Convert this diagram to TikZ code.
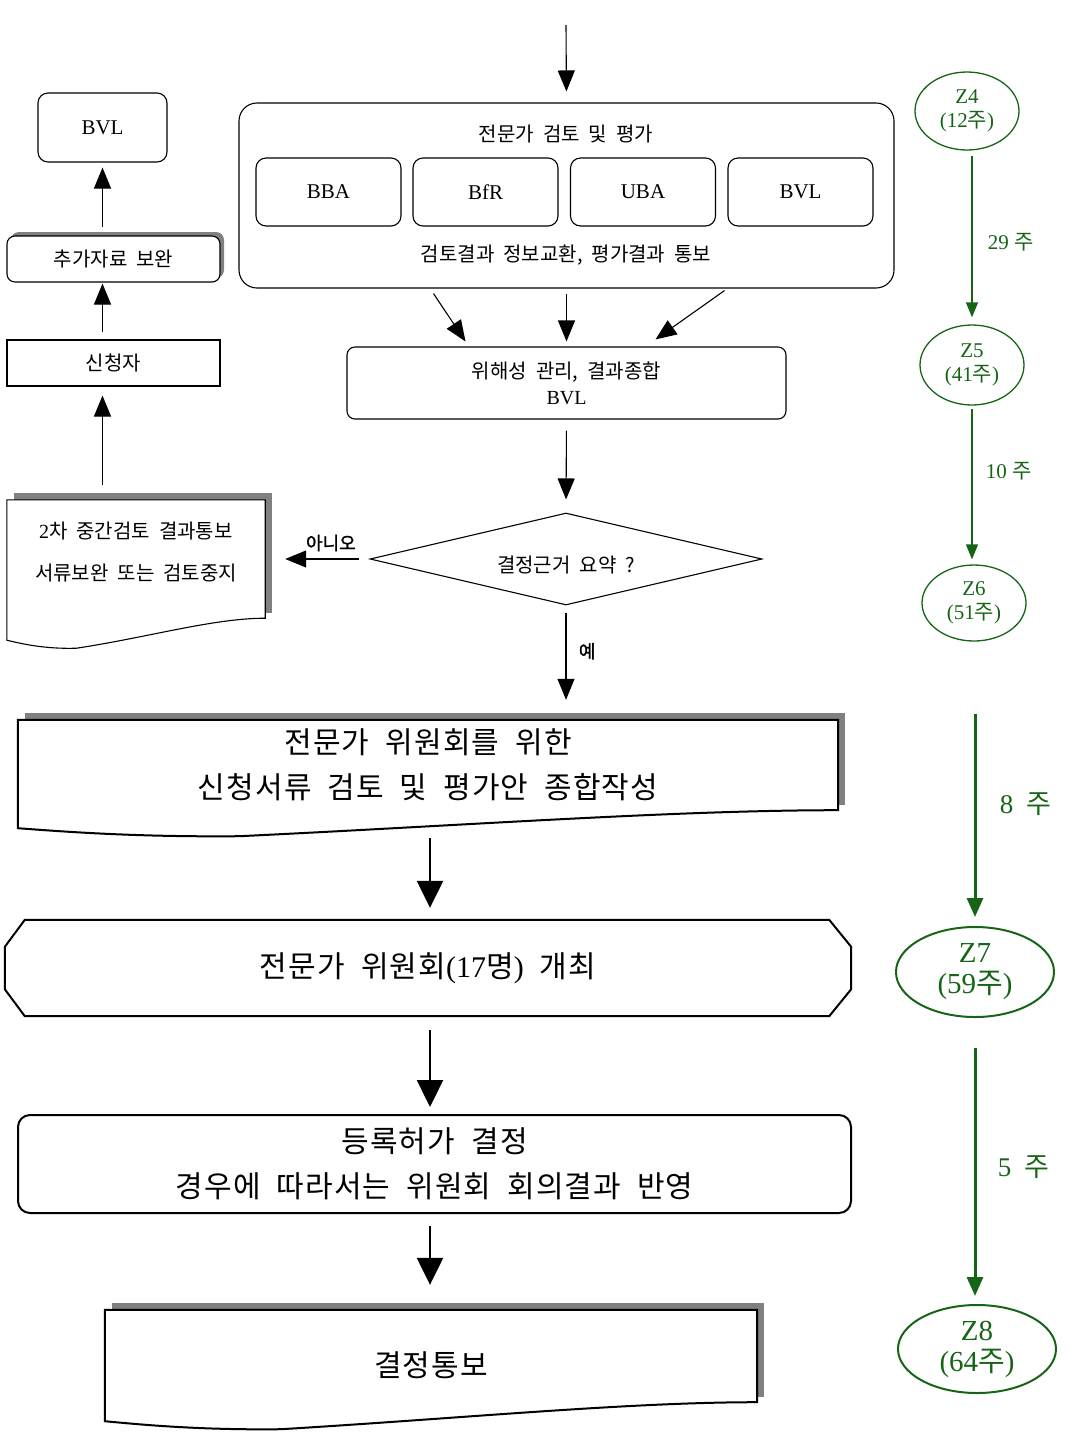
\documentclass[tikz,border=0pt]{standalone}
\usepackage{fontspec}
\setmainfont{Liberation Serif}
\newfontfamily\kr{Noto Sans CJK KR}[WordSpace=2]
\newfontfamily\krwide{Noto Sans CJK KR}[WordSpace=2, LetterSpace=4]
\newfontfamily\krbold{Noto Sans CJK KR}[FakeBold=1.5]
\usetikzlibrary{shapes.geometric, arrows.meta, calc, shadows, backgrounds}
\definecolor{zgreen}{RGB}{22,100,22}
\definecolor{shadowgray}{RGB}{128,128,128}
% document shape with wavy lower edge: node, rise of the right corner, line width
\newcommand{\docframe}[3]{
  \begin{scope}[on background layer]
    \fill[shadowgray] ($(#1.north west)+(7,-7)$) rectangle ($(#1.south east)+(7,-5)$);
    \filldraw[fill=white, line width=#3] (#1.north west) -- (#1.north east) -- (#1.south east)
      .. controls ($(#1.south west)!0.8!(#1.south east)$) and ($(#1.south west)!0.55!(#1.south east)+(0,#2-3)$) .. ($(#1.south west)!0.27!(#1.south east)+(0,#2+8)$)
      .. controls ($(#1.south west)!0.14!(#1.south east)+(0,#2+9)$) and ($(#1.south west)!0.05!(#1.south east)+(0,#2+3)$) .. ($(#1.south west)+(0,#2)$) -- cycle;
  \end{scope}
}

\begin{document}
\begin{tikzpicture}[x=1pt, y=-1pt,
    txt/.style={font=\kr\fontsize{20}{26}\selectfont},
    bigtxt/.style={font=\krwide\fontsize{30}{45}\selectfont},
    latin/.style={font=\rmfamily\fontsize{21}{24}\selectfont},
    frame/.style={draw, line width=1.1pt, inner sep=0pt, align=center},
    bigframe/.style={draw, line width=2pt, inner sep=0pt, align=center},
    arr/.style={-{Triangle[width=17pt,length=21pt]}, line width=1.1pt},
    bigarr/.style={-{Triangle[width=26pt,length=27pt]}, line width=2.4pt},
    lbl/.style={font=\krbold\fontsize{18}{20}\selectfont},
    zone/.style={ellipse, draw=zgreen, text=zgreen, line width=1.3pt, inner sep=0pt, align=center, font=\rmfamily\fontsize{21}{24}\selectfont},
    bigzone/.style={zone, line width=2pt, font=\rmfamily\fontsize{29}{31}\selectfont},
    garr/.style={zgreen, -{Triangle[width=12pt,length=15pt]}, line width=1.3pt},
    gbigarr/.style={zgreen, -{Triangle[width=16pt,length=19pt]}, line width=3pt},
    weeks/.style={text=zgreen, font=\rmfamily\fontsize{21}{24}\selectfont},
    bigweeks/.style={text=zgreen, font=\rmfamily\fontsize{27}{30}\selectfont}]
  \useasboundingbox (0,0) rectangle (1070,1444);

  % expert review block
  \coordinate (entry) at (566,25);
  \node[frame, rounded corners=18pt, minimum width=655pt, minimum height=185pt] (review) at (566.5,195.5) {};
  \node[txt] (revtitle) at (566,134) {전문가 검토 및 평가};
  \node[frame, rounded corners=10pt, latin, minimum width=145pt, minimum height=68pt] (bba) at (328.5,192) {BBA};
  \node[frame, rounded corners=10pt, latin, minimum width=145pt, minimum height=68pt] (bfr) at (485.5,192) {BfR};
  \node[frame, rounded corners=10pt, latin, minimum width=145pt, minimum height=68pt] (uba) at (643,192) {UBA};
  \node[frame, rounded corners=10pt, latin, minimum width=145pt, minimum height=68pt] (bvlsub) at (800.5,192) {BVL};
  \node[txt] (revnote) at (566,255) {검토결과 정보교환, 평가결과 통보};

  % risk management
  \node[frame, rounded corners=8pt, txt, minimum width=439pt, minimum height=72pt] (risk) at (566.5,383) {위해성 관리, 결과종합\\{\rmfamily BVL}};
  \node[draw, diamond, aspect=4.26, line width=1.1pt, inner sep=0pt, minimum width=392pt, minimum height=92pt, txt] (decision) at (566,559) {\raisebox{-13pt}[0pt][0pt]{결정근거 요약 ?}};

  % left column
  \node[draw=none, txt, align=center, minimum width=258pt, minimum height=118pt, inner sep=0pt] (notice2) at (136,559) {{\rmfamily 2}차 중간검토 결과통보\\[16pt]서류보완 또는 검토중지\\[-10pt]};
  \docframe{notice2}{22}{1.1pt}
  \node[frame, txt, minimum width=213pt, minimum height=46pt] (applicant) at (113.5,363) {신청자};
  \node[frame, rounded corners=8pt, txt, fill=white, minimum width=213pt, minimum height=46pt,
        drop shadow={shadow xshift=4pt, shadow yshift=4pt, fill=shadowgray, opacity=1}] (supplement) at (113.5,259) {추가자료 보완};
  \node[frame, rounded corners=10pt, latin, minimum width=129pt, minimum height=69pt] (bvlleft) at (102.5,127.5) {BVL};

  % lower part
  \node[draw=none, bigtxt, align=center, minimum width=820pt, minimum height=90pt, inner sep=0pt] (prepdoc) at (428,765) {전문가 위원회를 위한\\신청서류 검토 및 평가안 종합작성};
  \docframe{prepdoc}{18}{2pt}
  \node[draw=none, bigtxt, minimum width=846pt, minimum height=96pt, inner sep=0pt] (meeting) at (428,968) {전문가 위원회{\rmfamily (17}명{\rmfamily )} 개최};
  \draw[line width=2pt] ($(meeting.north west)+(20,0)$) -- ($(meeting.north east)+(-22,0)$) -- ($(meeting.north east)+(0,27)$)
    -- ($(meeting.south east)+(0,-27)$) -- ($(meeting.south east)+(-22,0)$) -- ($(meeting.south west)+(20,0)$)
    -- ($(meeting.south west)+(0,-27)$) -- ($(meeting.north west)+(0,27)$) -- cycle;
  \node[bigframe, rounded corners=12pt, bigtxt, minimum width=833pt, minimum height=98pt] (decide) at (434.5,1164) {등록허가 결정\\경우에 따라서는 위원회 회의결과 반영};
  \node[draw=none, bigtxt, minimum width=652pt, minimum height=92pt, inner sep=0pt] (final) at (431,1356) {\raisebox{-20pt}[0pt][0pt]{결정통보}};
  \docframe{final}{19}{2pt}

  % connectors
  \draw[arr, shorten >=11pt] (entry) -- (review.north);
  \draw[arr] ([xshift=-133pt,yshift=-5pt]review.south) -- ([xshift=-101pt,yshift=5pt]risk.north);
  \draw[arr, shorten <=5pt, shorten >=5pt] (review.south) -- (risk.north);
  \draw[arr] ([xshift=158pt,yshift=-2pt]review.south) -- ([xshift=89pt,yshift=7pt]risk.north);
  \draw[arr, shorten <=11pt, shorten >=13pt] (risk.south) -- (decision.north);
  \draw[arr, shorten <=10pt, shorten >=20pt] (decision.west) -- (notice2.east) node[lbl, pos=0.37, above=4pt] (lblno) {아니오};
  \draw[arr, shorten <=7pt, shorten >=20pt] (decision.south) -- (decision.south |- prepdoc.north) node[lbl, pos=0.4, right=9pt] (lblyes) {예};
  \draw[arr, shorten <=15pt, shorten >=9pt] (notice2.north -| bvlleft) -- (applicant.south -| bvlleft);
  \draw[arr, shorten <=7pt, shorten >=1pt] (applicant.north -| bvlleft) -- (supplement.south -| bvlleft);
  \draw[arr, shorten <=8pt, shorten >=5pt] (supplement.north -| bvlleft) -- (bvlleft.south);
  \draw[bigarr, shorten <=28pt, shorten >=12pt] (prepdoc.south -| 430,0) -- (meeting.north -| 430,0);
  \draw[bigarr, shorten <=14pt, shorten >=7pt] (meeting.south -| 430,0) -- (decide.north -| 430,0);
  \draw[bigarr, shorten <=12pt, shorten >=25pt] (decide.south -| 430,0) -- (final.north -| 430,0);

  % time line
  \node[zone, minimum width=104pt, minimum height=78pt] (z4) at (967,111) {Z4\\(12{\kr 주})};
  \node[zone, minimum width=104pt, minimum height=80pt] (z5) at (972,365) {Z5\\(41{\kr 주})};
  \node[zone, minimum width=104pt, minimum height=76pt] (z6) at (974,603) {Z6\\(51{\kr 주})};
  \node[bigzone, minimum width=158pt, minimum height=90pt] (z7) at (975,972) {Z7\\(59{\kr 주})};
  \node[bigzone, minimum width=158pt, minimum height=88pt] (z8) at (977,1349) {Z8\\(64{\kr 주})};
  \draw[garr, shorten <=5pt, shorten >=7pt] (z5.north |- z4.south) -- (z5.north) node[weeks, pos=0.53, right=12pt] (w29) {29 {\kr 주}};
  \draw[garr, shorten <=3pt, shorten >=5pt] (z5.south) -- (z5.south |- z6.north) node[weeks, pos=0.41, right=10pt] (w10) {10 {\kr 주}};
  \draw[gbigarr, shorten <=72pt, shorten >=9pt] (z7 |- z6.south) -- (z7.north) node[bigweeks, pos=0.57, right=20pt] (w8) {8\ \ {\kr 주}};
  \draw[gbigarr, shorten <=30pt, shorten >=8pt] (z7.south) -- (z7.south |- z8.north) node[bigweeks, pos=0.52, right=18pt] (w5) {5\ \ {\kr 주}};
\end{tikzpicture}
\end{document}
